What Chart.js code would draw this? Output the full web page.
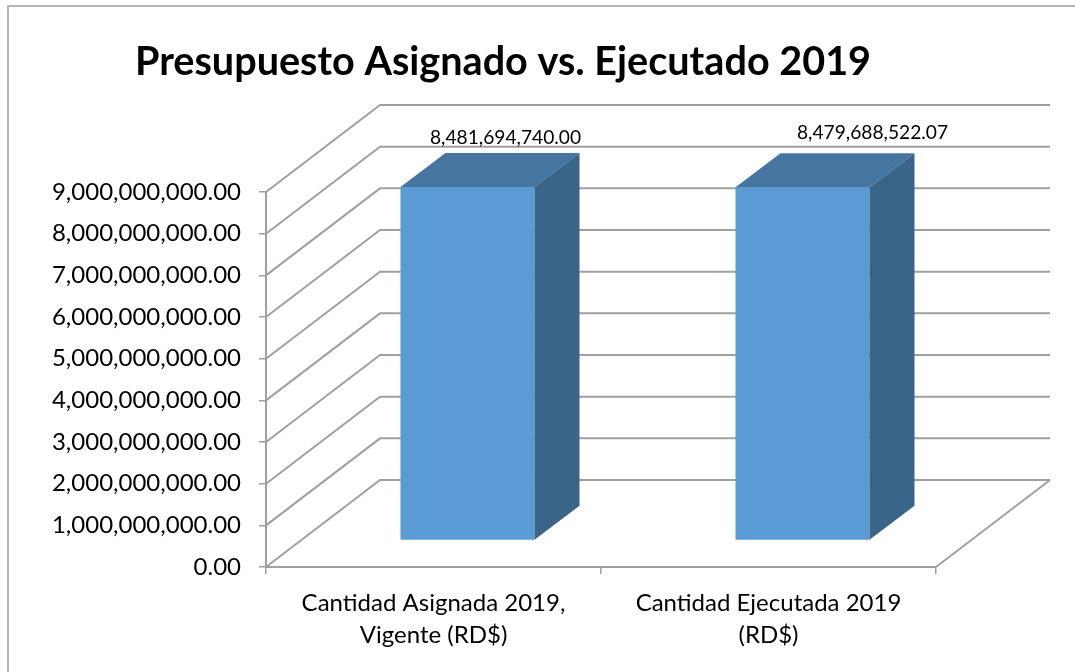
<!DOCTYPE html>
<html lang="es">
<head>
    <meta charset="UTF-8">
    <title>Presupuesto 2019</title>
    <style>
        html, body { margin: 0; padding: 0; background: #fff; }
        #wrap { position: relative; width: 1075px; height: 672px; }
    </style>
</head>
<body>
    <div id="wrap"><canvas id="myChart" width="1075" height="672"></canvas></div>

    <script src="https://cdn.jsdelivr.net/npm/chart.js"></script>

    <script>
        const titulo = 'Presupuesto Asignado vs. Ejecutado 2019'
        const categorias = [['Cantidad Asignada 2019,', 'Vigente (RD$)'], ['Cantidad Ejecutada 2019', '(RD$)']]
        const valores = [8481694740.00, 8479688522.07]
        const yMin = 0
        const yMax = 9000000000
        const yPaso = 1000000000

        const gris = '#a0a0a0'
        const fuente = 'Lato, Carlito, sans-serif'

        // fake 3D: wall depth, where the bar sits in it, and the bar's own depth
        const pared = { dx: 114, dy: -87 }
        const barra = { dx: 34, dy: -26.5, fondoX: 45, fondoY: -34 }
        const etiquetaDy = [-76, -81]
        const etiquetaDx = [72, 104]

        const formato = v => Number(v).toLocaleString('en-US', { minimumFractionDigits: 2, maximumFractionDigits: 2 })

        const cara = (ctx, puntos, color) => {
            ctx.fillStyle = color
            ctx.beginPath()
            puntos.forEach((p, i) => i ? ctx.lineTo(p[0], p[1]) : ctx.moveTo(p[0], p[1]))
            ctx.closePath()
            ctx.fill()
        }

        const fondo3d = {
            id: 'fondo3d',
            // the tick labels are wider than the space left of the axis, don't let the scale clip them
            afterLayout(chart) {
                chart.scales.y.left = 0
            },
            beforeDraw(chart) {
                const ctx = chart.ctx
                ctx.save()
                ctx.strokeStyle = '#b5b5b5'
                ctx.lineWidth = 2
                ctx.beginPath()
                ctx.moveTo(8, 672)
                ctx.lineTo(8, 6)
                ctx.lineTo(1075, 6)
                ctx.stroke()
                ctx.restore()
            },
            beforeDatasetsDraw(chart) {
                const ctx = chart.ctx
                const area = chart.chartArea
                const y = chart.scales.y
                ctx.save()
                ctx.strokeStyle = gris
                ctx.lineWidth = 2
                y.ticks.forEach(t => {
                    const py = y.getPixelForValue(t.value)
                    ctx.beginPath()
                    ctx.moveTo(area.left, py)
                    ctx.lineTo(area.left + pared.dx, py + pared.dy)
                    ctx.lineTo(area.right + pared.dx, py + pared.dy)
                    ctx.stroke()
                })
                // floor edge on the right
                const cero = y.getPixelForValue(yMin)
                ctx.beginPath()
                ctx.moveTo(area.right, cero)
                ctx.lineTo(area.right + pared.dx, cero + pared.dy)
                ctx.stroke()
                ctx.restore()
                // the bars are drawn by the library, pushed back into the depth
                ctx.save()
                ctx.translate(barra.dx, barra.dy)
            },
            afterDatasetsDraw(chart) {
                const ctx = chart.ctx
                const meta = chart.getDatasetMeta(0)
                meta.data.forEach((bar, i) => {
                    const { x, y, base, width } = bar.getProps(['x', 'y', 'base', 'width'], true)
                    const l = x - width / 2
                    const r = x + width / 2
                    const fx = barra.fondoX
                    const fy = barra.fondoY
                    cara(ctx, [[l, y], [r, y], [r + fx, y + fy], [l + fx, y + fy]], '#4575a1')
                    cara(ctx, [[r, y], [r + fx, y + fy], [r + fx, base + fy], [r, base]], '#3a6488')
                })
                ctx.restore()
                ctx.save()
                ctx.fillStyle = '#000'
                ctx.font = '19.2px ' + fuente
                ctx.textAlign = 'center'
                ctx.textBaseline = 'middle'
                meta.data.forEach((bar, i) => {
                    ctx.fillText(formato(valores[i]), bar.x + etiquetaDx[i], bar.y + etiquetaDy[i])
                })
                ctx.restore()
            }
        }

        var ctx = document.getElementById('myChart')
        var myChart = new Chart(ctx, {
            type: 'bar',
            data: {
                labels: categorias,
                datasets: [{
                    data: valores,
                    backgroundColor: '#5b9bd5',
                    borderWidth: 0,
                    categoryPercentage: 1,
                    barPercentage: 0.4,
                    clip: false
                }]
            },
            options: {
                responsive: false,
                animation: false,
                layout: { padding: { left: 70, right: 139, top: 0, bottom: 0 } },
                plugins: {
                    legend: { display: false },
                    tooltip: { enabled: false },
                    title: {
                        display: true,
                        text: titulo,
                        color: '#000',
                        font: { family: fuente, size: 39.6, weight: 'bold' },
                        padding: { top: 38, bottom: 106.5 }
                    }
                },
                scales: {
                    x: {
                        afterFit: s => { s.height = 105 },
                        border: { color: gris, width: 2 },
                        grid: { drawOnChartArea: false, color: gris, lineWidth: 1.5, tickLength: 7 },
                        ticks: { color: '#000', padding: 14, maxRotation: 0, font: { family: fuente, size: 24, lineHeight: 1.3 } }
                    },
                    y: {
                        min: yMin,
                        max: yMax,
                        afterFit: s => { s.width = 196 },
                        border: { color: gris, width: 2 },
                        grid: { drawOnChartArea: false, color: gris, lineWidth: 1.5, tickLength: 7 },
                        ticks: {
                            stepSize: yPaso,
                            color: '#000',
                            padding: 18,
                            callback: v => formato(v),
                            font: { family: fuente, size: 24 }
                        }
                    }
                }
            },
            plugins: [fondo3d]
        })
    </script>
</body>
</html>
